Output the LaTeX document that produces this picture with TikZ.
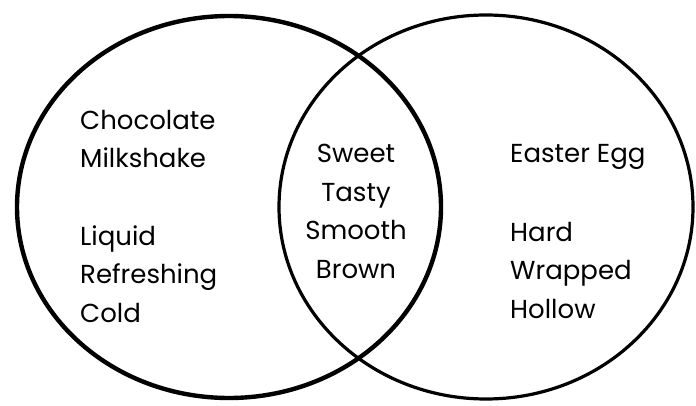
\documentclass[tikz,border=0pt]{standalone}
\usepackage{fontspec}
\setmainfont{Poppins}
\usepackage{tikz}
\usetikzlibrary{shapes.geometric}

\begin{document}
\begin{tikzpicture}[x=1pt,y=-1pt,
  set/.style={draw=black,ellipse,inner sep=0pt},
  words/.style={font=\fontsize{26}{38.5}\selectfont,inner sep=0pt}]
\useasboundingbox (0,0) rectangle (696,406);
% the two sets
\node[set,line width=4.4pt,minimum width=424pt,minimum height=382pt] (milk) at (229,207) {};
\node[set,line width=3.2pt,minimum width=414pt,minimum height=384pt] (egg) at (486,207) {};
% left only (base = last line)
\node[words,anchor=base west,align=left] (milkname) at (80,168) {Chocolate\\Milkshake};
\node[words,anchor=base west,align=left] (milkprops) at (80,322) {Liquid\\Refreshing\\Cold};
% both
\node[words,anchor=base,align=center] (common) at (356,278) {Sweet\\Tasty\\Smooth\\Brown};
% right only
\node[words,anchor=base west,align=left] (eggname) at (510,163) {Easter Egg};
\node[words,anchor=base west,align=left] (eggprops) at (510,318) {Hard\\Wrapped\\Hollow};
\end{tikzpicture}
\end{document}
